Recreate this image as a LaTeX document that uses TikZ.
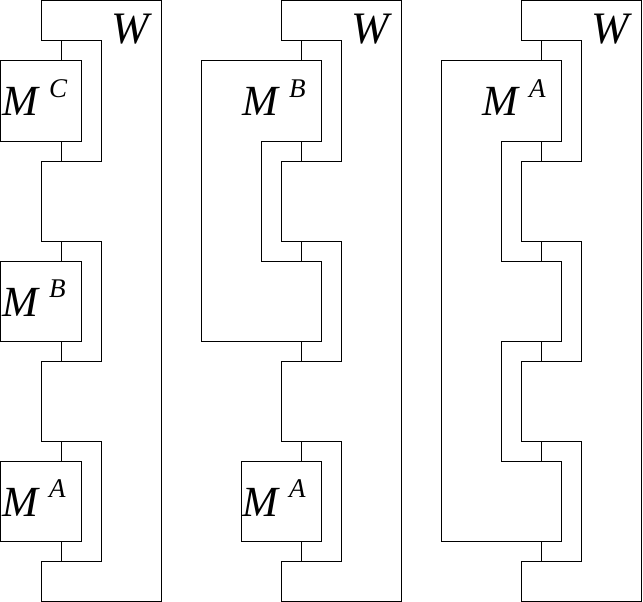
\documentclass[tikz,border=0pt]{standalone}
\usepackage{fontspec}
\setmainfont{Liberation Serif}
\newcommand{\Mlab}[1]{\fontsize{43}{43}\selectfont\itshape M\hspace{11pt}\raisebox{19pt}{\fontsize{27}{27}\selectfont\itshape #1}}
\newcommand{\Wlab}{\fontsize{45}{45}\selectfont\itshape W}
\tikzset{
  wire/.style={line width=1pt, line join=miter},
  boxline/.style={line width=1pt, line join=miter},
  lab/.style={inner sep=0pt, anchor=base west}
}
\begin{document}
\begin{tikzpicture}[x=1pt, y=-1pt]
\useasboundingbox (-1,-1) rectangle (642,601);
% combs W
\foreach \ox/\nm in {0/a,240/b,480/c}{
  \draw[wire] (\ox+40,0) -- (\ox+160,0) -- (\ox+160,600) -- (\ox+40,600) -- (\ox+40,560)
    -- (\ox+100,560) -- (\ox+100,440) -- (\ox+40,440) -- (\ox+40,360) -- (\ox+100,360)
    -- (\ox+100,240) -- (\ox+40,240) -- (\ox+40,160) -- (\ox+100,160) -- (\ox+100,40)
    -- (\ox+40,40) -- cycle;
  \node[lab] (W\nm) at (\ox+110,43) {\Wlab};
  \foreach \ya/\yb in {40/60,140/160,240/260,340/360,440/460,540/560}{
    \draw[wire] (\ox+60,\ya) -- (\ox+60,\yb);
  }
}
% panel 1 boxes
\draw[boxline] (0,60) rectangle (80,140);
\draw[boxline] (0,260) rectangle (80,340);
\draw[boxline] (0,460) rectangle (80,540);
\node[lab] (MC1) at (1,115) {\Mlab{C}};
\node[lab] (MB1) at (1,315) {\Mlab{B}};
\node[lab] (MA1) at (1,515) {\Mlab{A}};
% panel 2
\draw[boxline] (200,60) -- (320,60) -- (320,140) -- (260,140) -- (260,260) -- (320,260)
  -- (320,340) -- (200,340) -- cycle;
\draw[boxline] (240,460) rectangle (320,540);
\node[lab] (MB2) at (241,115) {\Mlab{B}};
\node[lab] (MA2) at (241,515) {\Mlab{A}};
% panel 3
\draw[boxline] (440,60) -- (560,60) -- (560,140) -- (500,140) -- (500,260) -- (560,260)
  -- (560,340) -- (500,340) -- (500,460) -- (560,460) -- (560,540) -- (440,540) -- cycle;
\node[lab] (MA3) at (481,115) {\Mlab{A}};
\end{tikzpicture}
\end{document}
